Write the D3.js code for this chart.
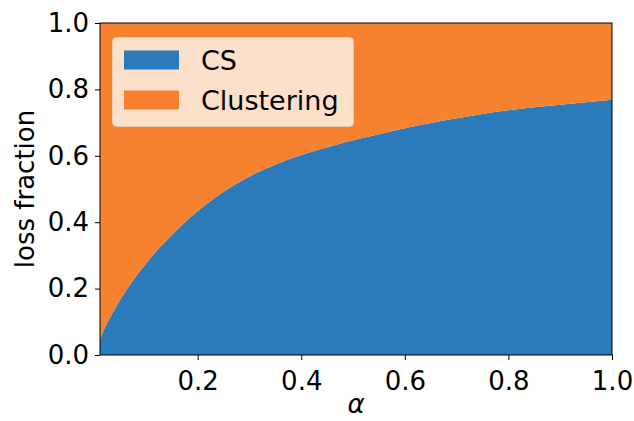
<!DOCTYPE html>
<html>
<head>
<meta charset="utf-8">
<script src="https://cdn.jsdelivr.net/npm/d3@7/dist/d3.min.js"></script>
<style>
  html, body { margin: 0; padding: 0; background: #fff; }
  svg text { font-family: "DejaVu Sans", sans-serif; fill: #000; }
</style>
</head>
<body>
<svg id="chart" width="634" height="421"></svg>
<script>
// alpha values and the share of the loss attributed to CS at each one
const alphas = [0.0114, 0.02, 0.03, 0.045, 0.07, 0.10, 0.13, 0.165, 0.20, 0.233,
                0.27, 0.30, 0.36, 0.43, 0.49, 0.56, 0.63, 0.73, 0.82, 0.92, 1.0];
const csShare = [0.046, 0.080, 0.110, 0.152, 0.213, 0.275, 0.329, 0.385, 0.434, 0.473,
                 0.511, 0.538, 0.580, 0.617, 0.643, 0.669, 0.693, 0.721, 0.741, 0.757, 0.769];
// the remainder of the loss goes to clustering
const clusteringShare = csShare.map(v => 1 - v);

const seriesNames = ["CS", "Clustering"];
const seriesColors = ["#2b7aba", "#f6812f"];
const xTicks = [0.2, 0.4, 0.6, 0.8, 1.0];
const yTicks = [0.0, 0.2, 0.4, 0.6, 0.8, 1.0];

const svg = d3.select("#chart");
const m = { left: 100, right: 612, top: 23, bottom: 355 };

const x = d3.scaleLinear().domain([alphas[0], 1.0]).range([m.left, m.right]);
const y = d3.scaleLinear().domain([0, 1]).range([m.bottom, m.top]);

const rows = alphas.map((a, i) => ({ alpha: a, CS: csShare[i], Clustering: clusteringShare[i] }));
const stacked = d3.stack().keys(seriesNames)(rows);

const area = d3.area()
  .x(d => x(d.data.alpha))
  .y0(d => y(d[0]))
  .y1(d => y(d[1]))
  .curve(d3.curveMonotoneX);

svg.append("g").selectAll("path")
  .data(stacked)
  .join("path")
  .attr("d", area)
  .attr("fill", (d, i) => seriesColors[i]);

// axes
const fs = 26;
const xAxis = d3.axisBottom(x).tickValues(xTicks).tickFormat(d3.format(".1f")).tickSize(5).tickPadding(12);
const yAxis = d3.axisLeft(y).tickValues(yTicks).tickFormat(d3.format(".1f")).tickSize(5).tickPadding(6);

const gx = svg.append("g").attr("transform", `translate(0,${m.bottom})`).call(xAxis);
const gy = svg.append("g").attr("transform", `translate(${m.left},0)`).call(yAxis);
[gx, gy].forEach(g => {
  g.select(".domain").remove();
  g.selectAll(".tick line").attr("stroke", "#000").attr("stroke-width", 1);
  g.selectAll(".tick text").attr("font-size", fs).attr("font-family", "DejaVu Sans");
});

// frame
svg.append("rect")
  .attr("x", m.left).attr("y", m.top)
  .attr("width", m.right - m.left).attr("height", m.bottom - m.top)
  .attr("fill", "none").attr("stroke", "#000").attr("stroke-width", 1);

// axis titles
svg.append("text")
  .attr("transform", `translate(34,${(m.top + m.bottom) / 2}) rotate(-90)`)
  .attr("text-anchor", "middle")
  .attr("font-size", fs)
  .text("loss fraction");

svg.append("text")
  .attr("x", (m.left + m.right) / 2).attr("y", 413)
  .attr("text-anchor", "middle")
  .attr("font-size", fs)
  .attr("font-style", "italic")
  .text("α");

// legend
const lg = svg.append("g");
lg.append("rect")
  .attr("x", 112.5).attr("y", 37.5).attr("width", 241).attr("height", 89)
  .attr("rx", 4).attr("ry", 4)
  .attr("fill", "#fde0c9").attr("stroke", "#e9cbb2").attr("stroke-width", 1);
seriesNames.forEach((name, i) => {
  const cy = 60 + i * 40;
  lg.append("rect")
    .attr("x", 124).attr("y", cy - 9.5).attr("width", 55).attr("height", 19)
    .attr("fill", seriesColors[i]);
  lg.append("text")
    .attr("x", 201).attr("y", cy).attr("dy", "0.36em")
    .attr("font-size", 27)
    .text(name);
});
</script>
</body>
</html>
